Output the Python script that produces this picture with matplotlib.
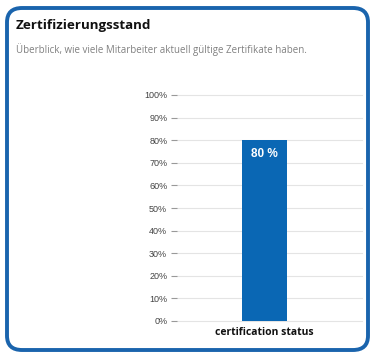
import matplotlib.pyplot as plt
from matplotlib.patches import FancyBboxPatch

# Data
categories = ["certification status"]
values = [80]
yticks = list(range(0, 101, 10))
ytick_labels = [f"{t}%" for t in yticks]

BLUE = "#0a67b4"
BORDER = "#1a64ad"

fig = plt.figure(figsize=(3.75, 3.57), dpi=100)
fig.patch.set_facecolor("white")

# Card border
card = FancyBboxPatch((7 / 375, 7 / 357), 361 / 375, 342 / 357,
                      boxstyle="round,pad=0,rounding_size=0.04",
                      transform=fig.transFigure, facecolor="white",
                      edgecolor=BORDER, linewidth=2.8, zorder=-1)
fig.patches.append(card)

fig.text(16 / 375, 1 - 26 / 357, "Zertifizierungsstand", fontsize=9.6,
         fontweight="bold", family="Open Sans", va="center", ha="left",
         color="#111111")
fig.text(16 / 375, 1 - 50 / 357,
         "Überblick, wie viele Mitarbeiter aktuell gültige Zertifikate haben.",
         fontsize=7, family="Open Sans", va="center", ha="left",
         color="#808080")

ax = fig.add_axes([177 / 375, 36 / 357, 185 / 375, 226 / 357], zorder=2)
ax.set_facecolor("none")
x = list(range(len(categories)))
bars = ax.bar(x, values, width=0.45, color=BLUE, zorder=3)
for b, v in zip(bars, values):
    ax.text(b.get_x() + b.get_width() / 2, v - 6, f"{v} %", color="white",
            fontsize=8.5, fontweight="bold", ha="center", va="center",
            family="Liberation Sans", zorder=4)

ax.set_xlim(-0.875, 0.975)
ax.set_ylim(0, 100)
ax.set_yticks(yticks)
ax.set_yticklabels(ytick_labels, family="Liberation Sans", fontsize=6.5,
                   color="#444444")
ax.set_xticks(x)
ax.set_xticklabels(categories, fontweight="bold", fontsize=7.5,
                   family="Open Sans", color="#111111")
ax.tick_params(axis="y", length=4, color="#999999", pad=3)
ax.tick_params(axis="x", length=0, pad=4)
ax.grid(axis="y", color="#e4e4e4", linewidth=0.8, zorder=0)
for ln in ax.get_ygridlines():
    ln.set_clip_on(False)
for s in ax.spines.values():
    s.set_visible(False)

fig.savefig("out.png", dpi=100)
